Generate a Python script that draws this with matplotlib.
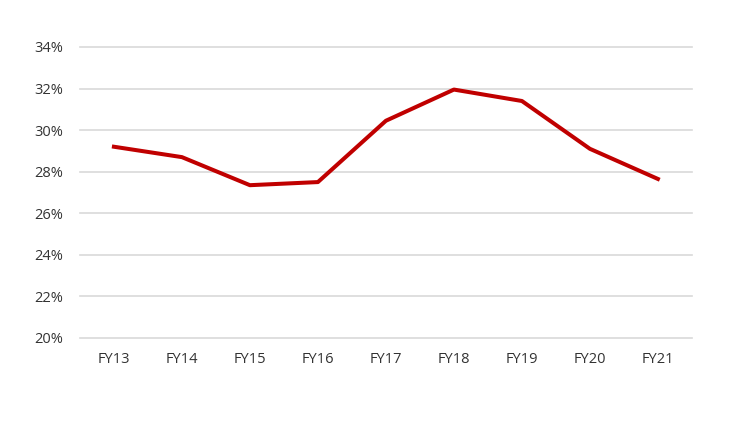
import numpy as np
import matplotlib.pyplot as plt
from matplotlib.ticker import FuncFormatter

# fiscal years and the ratio (percent)
years = ['FY13', 'FY14', 'FY15', 'FY16', 'FY17', 'FY18', 'FY19', 'FY20', 'FY21']
values = [29.2, 28.7, 27.35, 27.5, 30.45, 31.95, 31.4, 29.1, 27.65]
yticks = [20, 22, 24, 26, 28, 30, 32, 34]

plt.rcParams['font.family'] = ['Open Sans', 'DejaVu Sans']

fig = plt.figure(figsize=(7.4, 4.23), dpi=100)
ax = fig.add_axes([0.108, 0.201, 0.827, 0.688])

x = np.arange(len(years))
ax.plot(x, values, color='#C00000', linewidth=2.9, solid_joinstyle='round')

ax.set_xlim(-0.5, len(years) - 0.5)
ax.set_ylim(20, 34)
ax.set_yticks(yticks)
ax.yaxis.set_major_formatter(FuncFormatter(lambda v, p: '%d%%' % v))
ax.set_xticks(x)
ax.set_xticklabels(years)

ax.grid(axis='y', color='#D9D9D9', linewidth=1.2)
for gl in ax.get_ygridlines():
    gl.set_clip_on(False)
ax.set_axisbelow(True)
for s in ax.spines.values():
    s.set_visible(False)
ax.tick_params(length=0, labelsize=10.5, colors='#333333')
ax.tick_params(axis='y', pad=12)
ax.tick_params(axis='x', pad=10)

fig.savefig('out.png', dpi=100)
